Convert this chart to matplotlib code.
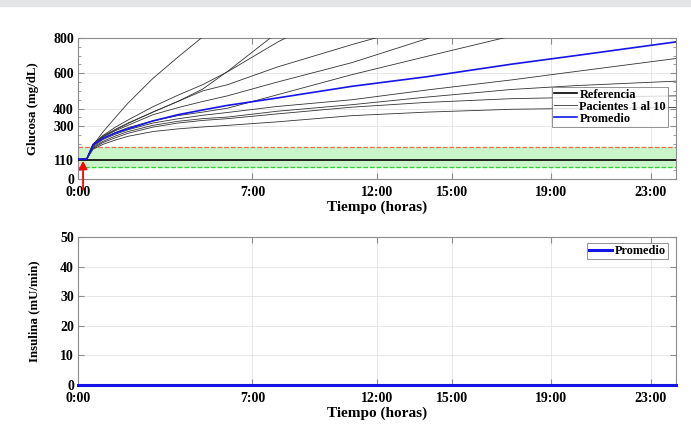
import numpy as np
import matplotlib
matplotlib.use("Agg")
import matplotlib.pyplot as plt
from matplotlib.patches import Rectangle, FancyArrowPatch
from matplotlib.ticker import MultipleLocator

plt.rcParams['font.family'] = ['Liberation Serif', 'DejaVu Serif']
plt.rcParams['font.weight'] = 'bold'

# tiempo (horas)
t = [0, 0.35, 0.6, 1, 1.5, 2, 3, 4, 5, 6, 8, 11, 14, 17.4, 20, 24]
nan = np.nan

# glucosa de los 10 pacientes (mg/dL)
p1 = [113, 116, 192, 268, 350, 430, 570, 690, 805, 920, 1150, nan, nan, nan, nan, nan]
p2 = [113, 115, 195, 240, 280, 315, 380, 440, 510, 610, 830, 1150, nan, nan, nan, nan]
p3 = [113, 115, 200, 248, 295, 335, 410, 475, 535, 608, 775, 990, nan, nan, nan, nan]
p4 = [113, 115, 198, 245, 283, 318, 380, 440, 500, 535, 635, 762, 880, nan, nan, nan]
p5 = [113, 115, 196, 240, 275, 305, 365, 405, 440, 472, 550, 660, 795, 950, nan, nan]
p6 = [113, 115, 190, 232, 265, 292, 330, 360, 380, 402, 478, 592, 695, 810, nan, nan]
p7 = [113, 115, 185, 225, 255, 280, 318, 342, 362, 378, 412, 450, 505, 562, 610, 683]
p8 = [113, 115, 180, 215, 245, 270, 305, 328, 343, 352, 385, 422, 465, 508, 530, 555]
p9 = [113, 115, 175, 208, 235, 260, 295, 318, 333, 343, 370, 408, 435, 456, 463, 472]
p10 = [113, 115, 170, 198, 222, 243, 270, 285, 296, 305, 325, 360, 380, 396, 401, 406]
pacientes = [p1, p2, p3, p4, p5, p6, p7, p8, p9, p10]

promedio = [113, 115, 195, 232, 262, 285, 330, 365, 392, 418, 460, 526, 580, 651, 700, 777]

referencia = 110
rango_bajo, rango_alto = 70, 180
t_bolo = 0.2

# insulina (mU/min)
t_ins = [0, 24]
insulina = [0, 0]

xticks = [0, 7, 12, 15, 19, 23]
xlabels = ["0:00", "7:00", "12:00", "15:00", "19:00", "23:00"]
yticks_g = [0, 110, 300, 400, 600, 800]
yticks_i = [0, 10, 20, 30, 40, 50]

fig = plt.figure(figsize=(6.91, 4.30), dpi=100)
fig.patches.append(Rectangle((0, 0.986), 1, 0.014, transform=fig.transFigure,
                             color='#e4e5e7', zorder=0))

spine_c = '#8c8c8c'
grid_c = '#e3e3e3'


def estilo(ax):
    for s in ax.spines.values():
        s.set_color(spine_c)
        s.set_linewidth(0.8)
    ax.tick_params(direction='in', which='both', top=True, right=True,
                   colors=spine_c, labelcolor='black', labelsize=10)
    ax.tick_params(axis='x', pad=5)
    ax.tick_params(axis='y', pad=3)
    ax.tick_params(which='major', length=4)
    ax.tick_params(which='minor', length=2)
    ax.grid(True, color=grid_c, linewidth=0.6)
    ax.set_axisbelow(True)
    ax.set_xticks(xticks)
    ax.set_xticklabels(xlabels)
    ax.set_xlim(0, 24)
    for lab in ax.get_xticklabels() + ax.get_yticklabels():
        lab.set_fontweight('bold')


def leyenda(ax, anchor):
    leg = ax.legend(loc='upper right', bbox_to_anchor=anchor,
                    fontsize=8.8, frameon=True, fancybox=False, handlelength=1.9,
                    handletextpad=0.2, borderpad=0.15, labelspacing=0.0,
                    borderaxespad=0)
    leg.get_frame().set_edgecolor('#777777')
    leg.get_frame().set_linewidth(0.7)
    for txt in leg.get_texts():
        txt.set_fontweight('bold')
    return leg


# --- glucosa ---
ax1 = fig.add_axes([0.113, 0.583, 0.865, 0.329])
ax1.axhspan(rango_bajo, rango_alto, color='#c9f5c9', zorder=1)
ax1.axhline(rango_alto, color='#e8704f', linestyle='--', linewidth=0.9, zorder=2)
ax1.axhline(rango_bajo, color='#33cc33', linestyle='--', linewidth=0.9, zorder=2)
ax1.plot([0, 24], [referencia, referencia], color='black', linewidth=1.2,
         zorder=3, label='Referencia')
for i, p in enumerate(pacientes):
    ax1.plot(t, p, color='#333333', linewidth=0.6, zorder=3,
             label='Pacientes 1 al 10' if i == 0 else None)
ax1.plot(t, promedio, color='#1515e8', linewidth=1.2, zorder=4, label='Promedio')
flecha = FancyArrowPatch((t_bolo, -60), (t_bolo, 105), arrowstyle='-|>',
                         mutation_scale=12, color='red', lw=1.3,
                         shrinkA=0, shrinkB=0, clip_on=False, zorder=6)
ax1.add_patch(flecha)
ax1.set_ylim(0, 800)
ax1.set_yticks(yticks_g)
ax1.yaxis.set_minor_locator(MultipleLocator(50))
estilo(ax1)
ax1.set_ylabel('Glucosa (mg/dL)', fontsize=9.3, fontweight='bold', labelpad=10)
ax1.set_xlabel('Tiempo (horas)', fontsize=11, fontweight='bold', labelpad=1)
leyenda(ax1, (0.9866, 0.653))

# --- insulina ---
ax2 = fig.add_axes([0.113, 0.105, 0.865, 0.343])
ax2.plot(t_ins, insulina, color='#1515e8', linewidth=2.2, label='Promedio',
         clip_on=False, zorder=4)
ax2.set_ylim(0, 50)
ax2.set_yticks(yticks_i)
estilo(ax2)
ax2.set_ylabel('Insulina (mU/min)', fontsize=9.3, fontweight='bold', labelpad=14)
ax2.set_xlabel('Tiempo (horas)', fontsize=11, fontweight='bold', labelpad=1)
leyenda(ax2, (0.9866, 0.961))

fig.savefig('out.png', dpi=100)
